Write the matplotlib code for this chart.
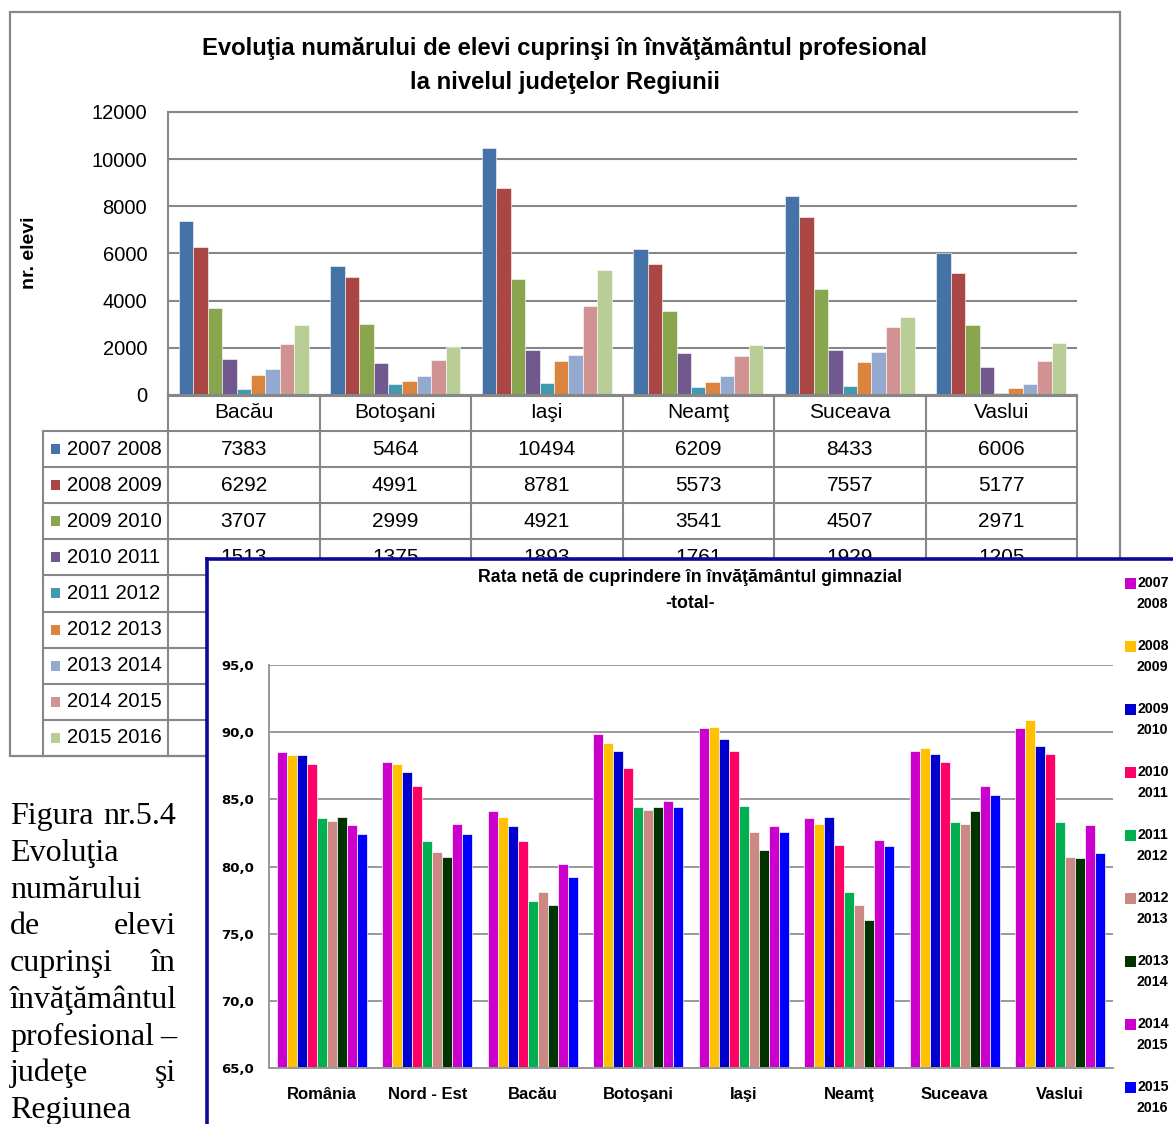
import matplotlib
matplotlib.use("Agg")
import matplotlib.pyplot as plt
from matplotlib.patches import Rectangle
import numpy as np

W, H = 1173, 1124

# --- chart 1: elevi in invatamantul profesional, pe judete ---
counties = ["Bacău", "Botoşani", "Iaşi", "Neamţ", "Suceava", "Vaslui"]
years1 = ["2007 2008", "2008 2009", "2009 2010", "2010 2011", "2011 2012",
          "2012 2013", "2013 2014", "2014 2015", "2015 2016"]
e0708 = [7383, 5464, 10494, 6209, 8433, 6006]
e0809 = [6292, 4991, 8781, 5573, 7557, 5177]
e0910 = [3707, 2999, 4921, 3541, 4507, 2971]
e1011 = [1513, 1375, 1893, 1761, 1929, 1205]
e1112 = [243, 457, 500, 329, 400, 71]
e1213 = [827, 614, 1457, 557, 1400, 300]
e1314 = [1114, 786, 1714, 786, 1843, 457]
e1415 = [2143, 1500, 3757, 1671, 2871, 1457]
e1516 = [2986, 2043, 5286, 2100, 3314, 2214]
elevi = [e0708, e0809, e0910, e1011, e1112, e1213, e1314, e1415, e1516]
colors1 = ["#4572A7", "#AA4643", "#89A54E", "#71588F", "#4198AF",
           "#DB843D", "#93A9CF", "#D19392", "#B9CD96"]

# --- chart 2: rata neta de cuprindere, gimnazial ---
regions = ["România", "Nord - Est", "Bacău", "Botoşani", "Iaşi", "Neamţ",
           "Suceava", "Vaslui"]
years2 = ["2007\n2008", "2008\n2009", "2009\n2010", "2010\n2011", "2011\n2012",
          "2012\n2013", "2013\n2014", "2014\n2015", "2015\n2016"]
r0708 = [88.5, 87.8, 84.1, 89.9, 90.3, 83.6, 88.6, 90.3]
r0809 = [88.3, 87.6, 83.7, 89.2, 90.4, 83.2, 88.8, 90.9]
r0910 = [88.3, 87.0, 83.0, 88.6, 89.5, 83.7, 88.4, 89.0]
r1011 = [87.6, 86.0, 81.9, 87.3, 88.6, 81.6, 87.8, 88.4]
r1112 = [83.6, 81.9, 77.4, 84.4, 84.5, 78.1, 83.3, 83.3]
r1213 = [83.4, 81.1, 78.1, 84.2, 82.6, 77.1, 83.2, 80.7]
r1314 = [83.7, 80.7, 77.1, 84.4, 81.2, 76.0, 84.1, 80.6]
r1415 = [83.1, 83.2, 80.2, 84.9, 83.0, 82.0, 86.0, 83.1]
r1516 = [82.4, 82.4, 79.2, 84.4, 82.6, 81.5, 85.3, 81.0]
rata = [r0708, r0809, r0910, r1011, r1112, r1213, r1314, r1415, r1516]
colors2 = ["#CC00CC", "#FFC000", "#0000CC", "#FF0066", "#00B050",
           "#CC8882", "#003300", "#CC00CC", "#0000FF"]

caption = [["Figura", "nr.5.4"], ["Evoluţia"], ["numărului"], ["de", "elevi"],
           ["cuprinşi", "în"], ["învăţământul"], ["profesional", "–"],
           ["judeţe", "şi"], ["Regiunea"]]

SANS = ["Liberation Sans", "DejaVu Sans"]
SERIF = ["Liberation Serif", "DejaVu Serif"]
GRAY = "#878787"
PANEL_TOP = 558.5


def box(x0, y0, x1, y1):
    # pixel box (top-left origin) -> figure fraction
    return [x0 / W, 1 - y1 / H, (x1 - x0) / W, (y1 - y0) / H]


fig = plt.figure(figsize=(W / 100, H / 100), dpi=100)

# background layer in pixel coords: frame, title, table
bg = fig.add_axes([0, 0, 1, 1])
bg.set_xlim(0, W)
bg.set_ylim(H, 0)
bg.axis("off")

bg.add_patch(Rectangle((10, 12), 1110, 744, fill=False, ec=GRAY, lw=1.6))
bg.text(565, 48, "Evoluţia numărului de elevi cuprinşi în învăţământul profesional",
        ha="center", va="center", fontsize=17.2, fontweight="bold", family=SANS)
bg.text(565, 83, "la nivelul judeţelor Regiunii", ha="center", va="center",
        fontsize=17.2, fontweight="bold", family=SANS)
bg.text(30, 253, "nr. elevi", rotation=90, ha="center", va="center",
        fontsize=14, fontweight="bold", family=SANS)

# data table under chart 1
col_x = np.linspace(168, 1077, len(counties) + 1)
row_h = 36.1
row_y = 431 + row_h * np.arange(len(years1) + 1)
bg.plot([168, 1077], [396, 396], color=GRAY, lw=1.5)
for y in row_y:
    bg.plot([43, 1077], [y, y], color=GRAY, lw=1.5)
for x in col_x:
    bg.plot([x, x], [396, row_y[-1]], color=GRAY, lw=1.5)
bg.plot([43, 43], [row_y[0], row_y[-1]], color=GRAY, lw=1.5)
for j, name in enumerate(counties):
    bg.text((col_x[j] + col_x[j + 1]) / 2, 413, name, ha="center", va="center",
            fontsize=15, family=SANS)
for i, lab in enumerate(years1):
    yc = (row_y[i] + row_y[i + 1]) / 2
    bg.add_patch(Rectangle((51, yc - 5), 9, 10, color=colors1[i], lw=0))
    bg.text(67, yc, lab, ha="left", va="center", fontsize=14.5, family=SANS)
    if row_y[i] > PANEL_TOP:
        continue  # rest of the row lies under the second chart
    for j in range(len(counties)):
        bg.text((col_x[j] + col_x[j + 1]) / 2, yc, str(elevi[i][j]),
                ha="center", va="center", fontsize=15, family=SANS)

# chart 1 bars
ax1 = fig.add_axes(box(168, 112, 1077, 395))
x1 = np.arange(len(counties))
bw1 = 0.095
for i, vals in enumerate(elevi):
    ax1.bar(x1 + (i - 4) * bw1, vals, bw1, color=colors1[i], edgecolor="white",
            linewidth=0.4, zorder=2)
ax1.set_xlim(-0.5, len(counties) - 0.5)
ax1.set_ylim(0, 12000)
ax1.set_yticks(range(0, 12001, 2000))
ax1.set_xticks([])
ax1.yaxis.grid(True, color=GRAY, lw=1.5)
ax1.set_axisbelow(True)
for s in ["top", "left", "bottom"]:
    ax1.spines[s].set_color(GRAY)
    ax1.spines[s].set_linewidth(1.5)
ax1.spines["right"].set_visible(False)
ax1.tick_params(axis="y", length=0, pad=15, labelsize=14.5)
for t in ax1.get_yticklabels():
    t.set_family(SANS)

# chart 2 panel on top
panel = fig.add_axes(box(206.7, PANEL_TOP, 1250, 1200))
panel.set_facecolor("white")
panel.set_xticks([])
panel.set_yticks([])
for s in ["left", "top"]:
    panel.spines[s].set_color("#0A0A96")
    panel.spines[s].set_linewidth(2.6)
for s in ["right", "bottom"]:
    panel.spines[s].set_visible(False)

ax2 = fig.add_axes(box(269, 665, 1113, 1068))
x2 = np.arange(len(regions))
bw2 = 0.095
for i, vals in enumerate(rata):
    ax2.bar(x2 + (i - 4) * bw2, vals, bw2, color=colors2[i], edgecolor="white",
            linewidth=0.5, zorder=2)
ax2.set_xlim(-0.5, len(regions) - 0.5)
ax2.set_ylim(65, 95)
yt = np.arange(65, 95.1, 5)
ax2.set_yticks(yt)
ax2.set_yticklabels([f"{v:.1f}".replace(".", ",") for v in yt],
                    fontsize=9.5, fontweight="bold", family="DejaVu Sans")
ax2.set_xticks(x2)
ax2.set_xticklabels(regions, fontsize=12, fontweight="bold", family=SANS)
ax2.yaxis.grid(True, color="#999999", lw=1.4)
ax2.set_axisbelow(True)
ax2.tick_params(length=0)
ax2.tick_params(axis="y", pad=11)
ax2.tick_params(axis="x", pad=14)
for s in ["left", "bottom"]:
    ax2.spines[s].set_color("#999999")
    ax2.spines[s].set_linewidth(1.4)
for s in ["top", "right"]:
    ax2.spines[s].set_visible(False)

# overlay: chart 2 title, legend, caption
top = fig.add_axes([0, 0, 1, 1])
top.set_xlim(0, W)
top.set_ylim(H, 0)
top.axis("off")
top.patch.set_visible(False)

top.text(690, 578, "Rata netă de cuprindere în învăţământul gimnazial",
         ha="center", va="center", fontsize=12.8, fontweight="bold", family=SANS)
top.text(690, 604, "-total-", ha="center", va="center", fontsize=12.8,
         fontweight="bold", family=SANS)

for k, lab in enumerate(years2):
    a, b = lab.split("\n")
    yc = 583 + 63 * k
    top.add_patch(Rectangle((1125, yc - 5.5), 11, 11, color=colors2[k], lw=0))
    top.text(1138, yc, a, ha="left", va="center", fontsize=10.2,
             fontweight="bold", family=SANS)
    top.text(1168, yc + 21, b, ha="right", va="center", fontsize=10.2,
             fontweight="bold", family=SANS)

for n, words in enumerate(caption):
    yb = 824 + 36.75 * n
    top.text(10, yb, words[0], ha="left", va="baseline", fontsize=23, family=SERIF)
    if len(words) > 1:
        top.text(176, yb, words[-1], ha="right", va="baseline", fontsize=23,
                 family=SERIF)

fig.savefig("out.png", dpi=100)
